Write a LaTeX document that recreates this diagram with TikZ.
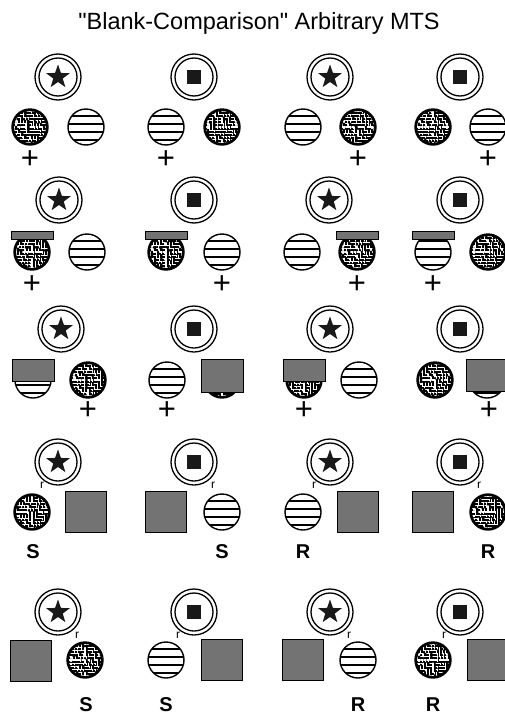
\documentclass[tikz,border=0pt]{standalone}
\usepackage{fontspec}
\setmainfont{Liberation Sans}
\newfontfamily\titlefont{Liberation Sans}
\usetikzlibrary{shapes.geometric}

\tikzset{
  ring/.style={line width=1.3pt},
  comp/.style={line width=1.4pt},
  graybox/.style={fill=black!55, draw=black, line width=1pt},
  mazeline/.style={white, line width=1.15pt, line cap=round},
  chord/.style={line width=1.3pt},
  plussign/.style={font=\fontsize{31}{31}\selectfont, inner sep=0pt},
  letter/.style={font=\fontsize{20}{20}\selectfont\bfseries, inner sep=0pt},
  rmark/.style={font=\fontsize{12}{12}\selectfont, inner sep=0pt},
}

\newcommand\SampleRing[2]{%
  \draw[ring] (#1,#2) circle (23);
  \draw[ring] (#1,#2) circle (19);}
\newcommand\StarSample[2]{\SampleRing{#1}{#2}%
  \node[star, star points=5, star point ratio=2.5, fill=black!90, inner sep=0pt, minimum size=25pt] at (#1,#2) {};}
\newcommand\SquareSample[2]{\SampleRing{#1}{#2}%
  \fill[black!90] ({#1-7},{#2-7}) rectangle ({#1+7},{#2+7});}
\newcommand\Maze[3]{%
  \fill[black] (#1,#2) circle (18);
  \begin{scope}
    \clip (#1,#2) circle (15.8);
    \pgfmathsetseed{#3}
    \foreach \i in {-6,...,6}{\foreach \j in {-6,...,6}{%
      \pgfmathtruncatemacro\dir{3*rnd}%
      \ifcase\dir
        \draw[mazeline] ({#1+\i*3.1},{#2+\j*3.1}) -- ++(3.1,0);
      \or
        \draw[mazeline] ({#1+\i*3.1},{#2+\j*3.1}) -- ++(0,3.1);
      \else
        \draw[mazeline] ({#1+\i*3.1},{#2+\j*3.1}) -- ++(1.55,0) -- ++(0,1.55);
      \fi}}
  \end{scope}
  \draw[comp] (#1,#2) circle (18);}
\newcommand\Lines[2]{%
  \begin{scope}
    \clip (#1,#2) circle (18);
    \foreach \d in {-11,-3,5,13} \draw[chord] ({#1-20},{#2+\d}) -- ({#1+20},{#2+\d});
  \end{scope}
  \draw[comp] (#1,#2) circle (18);}
\newcommand\CoverBar[2]{\draw[graybox] ({#1-21},{#2-21}) rectangle ({#1+21},{#2-13});}
\newcommand\CoverRect[3]{\draw[graybox] ({#1-21},{#2-21}) rectangle ({#1+21},{#2+#3});}
\newcommand\GraySq[2]{\draw[graybox] ({#1-20.5},{#2-20.5}) rectangle ({#1+20.5},{#2+20.5});}
\newcommand\Plus[2]{\node[plussign] at (#1,#2) {+};}
\newcommand\RL[2]{\node[rmark] at ({#1-16},{#2+23}) {r};}
\newcommand\RR[2]{\node[rmark] at ({#1+19},{#2+23}) {r};}

\begin{document}
\begin{tikzpicture}[x=1pt,y=-1pt]
\useasboundingbox[fill=white] (0,0) rectangle (505,715);
\node[font=\titlefont\fontsize{23.5}{24}\selectfont, inner sep=0pt] (title) at (259,23) {"Blank-Comparison" Arbitrary MTS};

% Row 1
\StarSample{58}{77}\Maze{30}{127}{11}\Lines{86}{127}\Plus{30}{160}
\SquareSample{194}{77}\Lines{166}{127}\Maze{222}{127}{12}\Plus{166}{160}
\StarSample{330}{77}\Lines{303}{127}\Maze{358}{127}{13}\Plus{358}{160}
\SquareSample{460}{77}\Maze{433}{127}{14}\Lines{488}{127}\Plus{488}{160}

% Row 2
\StarSample{59}{200}\Maze{32}{252}{21}\CoverBar{32}{252}\Lines{87}{252}\Plus{32}{285}
\SquareSample{194}{200}\Maze{166}{252}{22}\CoverBar{166}{252}\Lines{222}{252}\Plus{222}{285}
\StarSample{329}{200}\Lines{302}{252}\Maze{357}{252}{23}\CoverBar{357}{252}\Plus{357}{285}
\SquareSample{460}{200}\Lines{433}{252}\CoverBar{433}{252}\Maze{488}{252}{24}\Plus{433}{285}

% Row 3
\StarSample{61}{329}\Lines{33}{380}\CoverRect{33}{380}{1}\Maze{88}{380}{31}\Plus{88}{411}
\SquareSample{194}{329}\Lines{167}{380}\Maze{222}{380}{32}\CoverRect{222}{380}{12}\Plus{167}{411}
\StarSample{330}{329}\Maze{304}{380}{33}\CoverRect{304}{380}{1}\Lines{359}{380}\Plus{304}{411}
\SquareSample{460}{329}\Maze{435}{380}{34}\Lines{487}{380}\CoverRect{487}{380}{11}\Plus{489}{411}

% Row 4
\StarSample{58}{462}\RL{58}{462}\Maze{32}{512}{41}\GraySq{86}{512}\node[letter] at (33,552) {S};
\SquareSample{194}{462}\RR{194}{462}\GraySq{166}{512}\Lines{222}{512}\node[letter] at (222,552) {S};
\StarSample{330}{462}\RL{330}{462}\Lines{303}{512}\GraySq{358}{512}\node[letter] at (303,552) {R};
\SquareSample{460}{462}\RR{460}{462}\GraySq{433}{512}\Maze{488}{512}{44}\node[letter] at (488,552) {R};

% Row 5
\StarSample{58}{612}\RR{58}{612}\GraySq{31}{661}\Maze{85}{660}{51}\node[letter] at (86,705) {S};
\SquareSample{194}{612}\RL{194}{612}\Lines{166}{660}\GraySq{222}{660}\node[letter] at (166,705) {S};
\StarSample{330}{612}\RR{330}{612}\GraySq{303}{660}\Lines{358}{660}\node[letter] at (358,705) {R};
\SquareSample{460}{612}\RL{460}{612}\Maze{433}{660}{54}\GraySq{488}{660}\node[letter] at (433,705) {R};
\end{tikzpicture}
\end{document}
